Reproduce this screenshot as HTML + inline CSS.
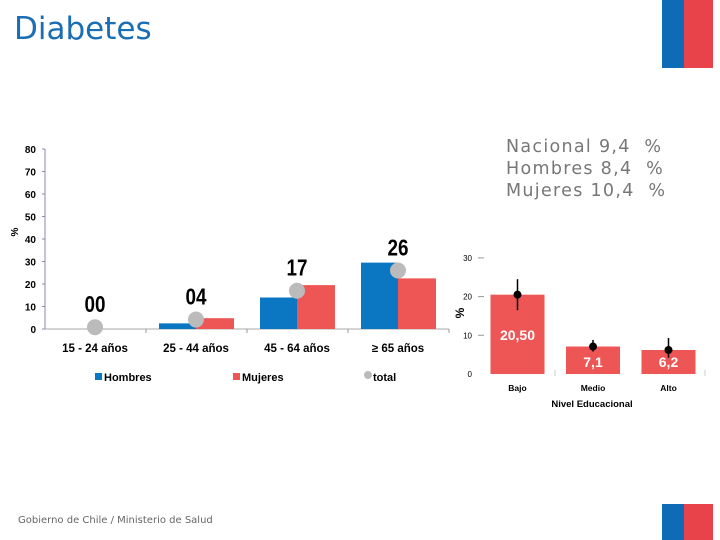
<!DOCTYPE html>
<html><head><meta charset="utf-8"><style>
body{margin:0;width:720px;height:540px;background:#fff;overflow:hidden;font-family:"Liberation Sans",sans-serif;position:relative}
.t{position:absolute}
</style></head><body>
<div class="t" style="left:14px;top:11px;font-size:31px;color:#1a6eb5;font-family:'DejaVu Sans',sans-serif">Diabetes</div>
<div class="t" style="left:662px;top:0;width:22px;height:68px;background:#0e6bb5"></div>
<div class="t" style="left:684px;top:0;width:29px;height:68px;background:#e8424a"></div>
<div class="t" style="left:662px;top:504px;width:22px;height:36px;background:#0e6bb5"></div>
<div class="t" style="left:684px;top:504px;width:29px;height:36px;background:#e8424a"></div>
<div class="t" style="left:506px;top:136px;font-size:17.5px;line-height:22px;letter-spacing:1.3px;color:#777;font-family:'DejaVu Sans',sans-serif">Nacional 9,4&nbsp; %<br>Hombres 8,4&nbsp; %<br>Mujeres 10,4&nbsp; %</div>
<div class="t" style="left:18px;top:515px;font-size:10px;color:#666;font-family:'DejaVu Sans',sans-serif">Gobierno de Chile / Ministerio de Salud</div>
<svg id="c" width="720" height="540" style="position:absolute;left:0;top:0"></svg>
<script>
const ageCats=["15 - 24 años","25 - 44 años","45 - 64 años","≥ 65 años"];
const hombres=[0,2.5,14,29.5];
const mujeres=[0,4.8,19.5,22.5];
const totals=[0.8,4.2,17,26];
const totalLabels=["00","04","17","26"];
const leftTicks=[0,10,20,30,40,50,60,70,80];
const eduCats=["Bajo","Medio","Alto"];
const eduVals=[20.5,7.1,6.2];
const eduLabels=["20,50","7,1","6,2"];
const eduLo=[16.5,5.8,4.2];
const eduHi=[24.5,8.8,9.3];
const rightTicks=[0,10,20,30];
const NS="http://www.w3.org/2000/svg",svg=document.getElementById('c');
function mk(t,a,txt){const e=document.createElementNS(NS,t);for(const k in a)e.setAttribute(k,a[k]);if(txt!=null)e.textContent=txt;svg.appendChild(e);return e;}
const ly=v=>329-v*2.25, lx=i=>95+i*101;
let e=mk('line',{x1:45,y1:149,x2:45,y2:329,stroke:'#88a'});

e=mk('line',{x1:45,y1:329,x2:449,y2:329,stroke:'#aaa'});

leftTicks.forEach(t=>{
 e=mk('text',{x:36,y:ly(t)+4,'text-anchor':'end','font-size':10,'font-weight':'bold'},t);
 
 mk('line',{x1:42,y1:ly(t),x2:45,y2:ly(t),stroke:'#88a'});
});
[146,247,348,449].forEach(x=>mk('line',{x1:x,y1:329,x2:x,y2:333,stroke:'#999'}));
e=mk('text',{x:0,y:0,'font-size':10,'font-weight':'bold',transform:'translate(18,232) rotate(-90)','text-anchor':'middle'},'%');

ageCats.forEach((c,i)=>{
 const cx=lx(i);
 e=mk('rect',{x:cx-37,y:ly(hombres[i]),width:37,height:hombres[i]*2.25,fill:'#0b77c2'});
 
 e=mk('rect',{x:cx,y:ly(mujeres[i]),width:38,height:mujeres[i]*2.25,fill:'#ee5555'});
 
 e=mk('circle',{cx:cx,cy:ly(totals[i]),r:8,fill:'#bbb'});
 
 e=mk('text',{x:cx,y:ly(totals[i])-15,'text-anchor':'middle','font-size':23,'font-weight':'bold',transform:`translate(${cx*0.18},0) scale(0.82,1)`},totalLabels[i]);
 
 e=mk('text',{x:cx,y:352,'text-anchor':'middle','font-size':11.5,'font-weight':'bold'},c);
 
});
e=mk('rect',{x:95,y:373,width:7,height:7,fill:'#0b77c2'});
e=mk('text',{x:104,y:381,'font-size':11,'font-weight':'bold'},'Hombres');
e=mk('rect',{x:233,y:373,width:7,height:7,fill:'#ee5555'});
e=mk('text',{x:242,y:381,'font-size':11,'font-weight':'bold'},'Mujeres');
e=mk('circle',{cx:368,cy:375,r:4,fill:'#bbb'});
e=mk('text',{x:373,y:381,'font-size':11,'font-weight':'bold'},'total');
const ry=v=>374-v*3.87, rx=i=>517.5+i*75.5;
rightTicks.forEach(t=>{
 e=mk('text',{x:472,y:ry(t)+3,'text-anchor':'end','font-size':8},t);
 
 if(t>0)mk('line',{x1:478,y1:ry(t),x2:484,y2:ry(t),stroke:'#999'});
});
e=mk('text',{x:0,y:0,'font-size':12,'font-weight':'bold',transform:'translate(464,313) rotate(-90)','text-anchor':'middle'},'%');

[555,705].forEach(x=>mk('line',{x1:x,y1:370,x2:x,y2:376,stroke:'#ccc'}));
eduCats.forEach((c,i)=>{
 const cx=rx(i);
 e=mk('rect',{x:cx-27,y:ry(eduVals[i]),width:54,height:eduVals[i]*3.87,fill:'#ee5555'});
 
 e=mk('line',{x1:cx,y1:ry(eduLo[i]),x2:cx,y2:ry(eduHi[i]),stroke:'#000','stroke-width':1.5});
 
 e=mk('circle',{cx:cx,cy:ry(eduVals[i]),r:4,fill:'#000'});
 
 e=mk('text',{x:cx,y:i==0?340:367,'text-anchor':'middle','font-size':14,'font-weight':'bold',fill:'#fff'},eduLabels[i]);
 
 e=mk('text',{x:cx,y:391,'text-anchor':'middle','font-size':8.5,'font-weight':'bold'},c);
 
});
e=mk('text',{x:592,y:407,'text-anchor':'middle','font-size':9.5,'font-weight':'bold'},'Nivel Educacional');

</script>
</body></html>
